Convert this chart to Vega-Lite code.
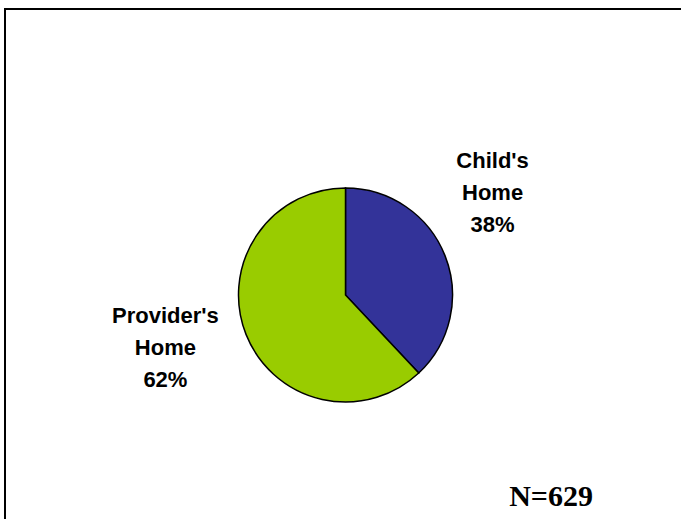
{
 "$schema": "https://vega.github.io/schema/vega-lite/v6.json",
 "autosize": "none",
 "width": 700,
 "height": 514,
 "padding": {"left": 5, "top": 9, "right": 0, "bottom": 0},
 "background": "white",
 "view": {"stroke": "black", "strokeWidth": 2, "fill": "white"},
 "data": {"values": [
   {"location": "Child's Home", "share": 38, "order": 1, "label": "Child's\nHome\n38%"},
   {"location": "Provider's Home", "share": 62, "order": 2, "label": "Provider's\nHome\n62%"}
 ]},
 "layer": [
  {
   "mark": {"type": "arc", "outerRadius": 107, "stroke": "black", "strokeWidth": 1.5,
            "x": {"expr": "width/2 - 9.5"}, "y": {"expr": "height/2 + 29"}},
   "encoding": {
     "theta": {"field": "share", "type": "quantitative", "stack": true},
     "order": {"field": "order", "type": "quantitative"},
     "color": {"field": "location", "type": "nominal",
               "scale": {"domain": ["Child's Home", "Provider's Home"], "range": ["#333399", "#99CC00"]},
               "legend": null}
   }
  },
  {
   "mark": {"type": "text", "radius": 181, "font": "Liberation Sans", "fontWeight": "bold", "fontSize": 22,
            "lineBreak": "\n", "lineHeight": 32, "align": "center", "baseline": "middle", "color": "black",
            "x": {"expr": "width/2 - 26"}, "y": {"expr": "height/2 - 27.5"}},
   "encoding": {
     "theta": {"field": "share", "type": "quantitative", "stack": true, "scale": {"range": [-0.065, 6.2182]}},
     "order": {"field": "order", "type": "quantitative"},
     "text": {"field": "label"}
   }
  },
  {
   "data": {"values": [{"note": "N=629"}]},
   "mark": {"type": "text", "font": "Liberation Serif", "fontWeight": "bold", "fontSize": 30,
            "align": "center", "baseline": "alphabetic", "color": "black",
            "x": {"expr": "width - 154"}, "y": {"expr": "height - 17"}},
   "encoding": {"text": {"field": "note"}}
  }
 ],
 "resolve": {"scale": {"theta": "independent"}}
}
